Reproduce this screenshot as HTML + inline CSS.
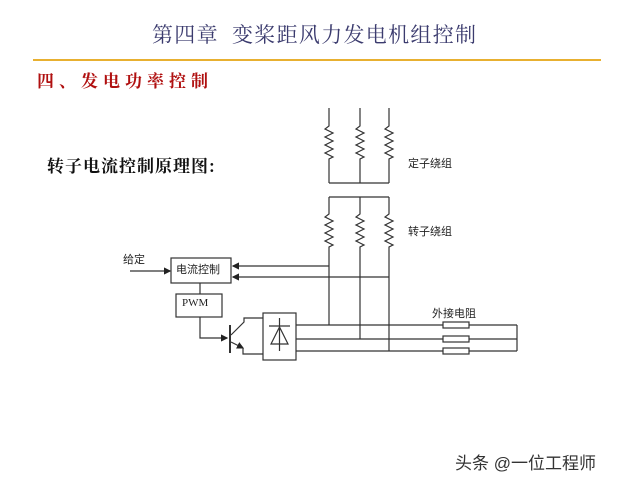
<!DOCTYPE html>
<html><head><meta charset="utf-8"><style>
body{margin:0;width:640px;height:480px;background:#fff;overflow:hidden;position:relative;font-family:"Liberation Sans","Noto Sans CJK SC",sans-serif}
.t{position:absolute;white-space:nowrap}
</style></head><body>
<div class="t" style="left:152px;top:19px;font-size:21px;color:#3b3b6e;font-family:'Liberation Serif','Noto Serif CJK SC',serif;letter-spacing:1.3px">第四章&nbsp; 变桨距风力发电机组控制</div>
<div style="position:absolute;left:33px;top:59px;width:568px;height:2px;background:#e8b030"></div>
<div class="t" style="left:37px;top:67px;font-size:17px;color:#b01010;font-weight:bold;font-family:'Noto Serif CJK SC',serif;letter-spacing:5px">四、发电功率控制</div>
<div class="t" style="left:47px;top:152px;font-size:17px;color:#111;font-weight:bold;font-family:'Noto Serif CJK SC',serif;letter-spacing:1px">转子电流控制原理图:</div>
<div class="t" style="left:408px;top:155px;font-size:11px;color:#222">定子绕组</div>
<div class="t" style="left:408px;top:223px;font-size:11px;color:#222">转子绕组</div>
<div class="t" style="left:123px;top:251px;font-size:11px;color:#222">给定</div>
<div class="t" style="left:432px;top:305px;font-size:11px;color:#222">外接电阻</div>
<div class="t" style="left:455px;top:449px;font-size:17px;color:#333">头条 @一位工程师</div>
<svg width="640" height="480" style="position:absolute;left:0;top:0" stroke="#333" stroke-width="1.2" fill="none">
<defs><marker id="a" markerWidth="6" markerHeight="6" refX="5" refY="3" orient="auto"><path d="M0,0L6,3L0,6z" fill="#222" stroke="none"/></marker></defs>
<g>
<path d="M329,108V126l-4,3l8,4l-8,4l8,4l-8,4l8,4l-8,4l8,4l-4,2V183"/>
<path d="M360,108V126l-4,3l8,4l-8,4l8,4l-8,4l8,4l-8,4l8,4l-4,2V183"/>
<path d="M389,108V126l-4,3l8,4l-8,4l8,4l-8,4l8,4l-8,4l8,4l-4,2V183"/>
<path d="M329,183H389"/>
<path d="M329,197H389"/>
<path d="M329,197V214l-4,3l8,4l-8,4l8,4l-8,4l8,4l-8,4l8,4l-4,2V325"/>
<path d="M360,197V214l-4,3l8,4l-8,4l8,4l-8,4l8,4l-8,4l8,4l-4,2V339"/>
<path d="M389,197V214l-4,3l8,4l-8,4l8,4l-8,4l8,4l-8,4l8,4l-4,2V351"/>
<rect x="171" y="258" width="60" height="25"/>
<rect x="176" y="294" width="46" height="23"/>
<path d="M329,266H233" marker-end="url(#a)"/>
<path d="M389,277H233" marker-end="url(#a)"/>
<path d="M130,271H170" marker-end="url(#a)"/>
<path d="M200,283V294"/>
<path d="M200,317V338H227" marker-end="url(#a)"/>
<path d="M230,325V353" stroke-width="2"/>
<path d="M231,335L244,322V318H263"/>
<path d="M231,342L243,348" marker-end="url(#a)"/>
<path d="M243,348V354H263"/>
<rect x="263" y="313" width="33" height="47"/>
<path d="M269,326H290M279.5,318V351M279.5,327L271,344H288Z"/>
<path d="M296,325H517M296,339H517M296,351H517M517,325V351"/>
<rect x="443" y="322" width="26" height="6" fill="#fff"/>
<rect x="443" y="336" width="26" height="6" fill="#fff"/>
<rect x="443" y="348" width="26" height="6" fill="#fff"/>
</g>
</svg>
<div class="t" style="left:176px;top:261px;font-size:11px;color:#222">电流控制</div>
<div class="t" style="left:182px;top:297px;font-size:11px;color:#222;font-family:'Liberation Serif',serif">PWM</div>
</body></html>
